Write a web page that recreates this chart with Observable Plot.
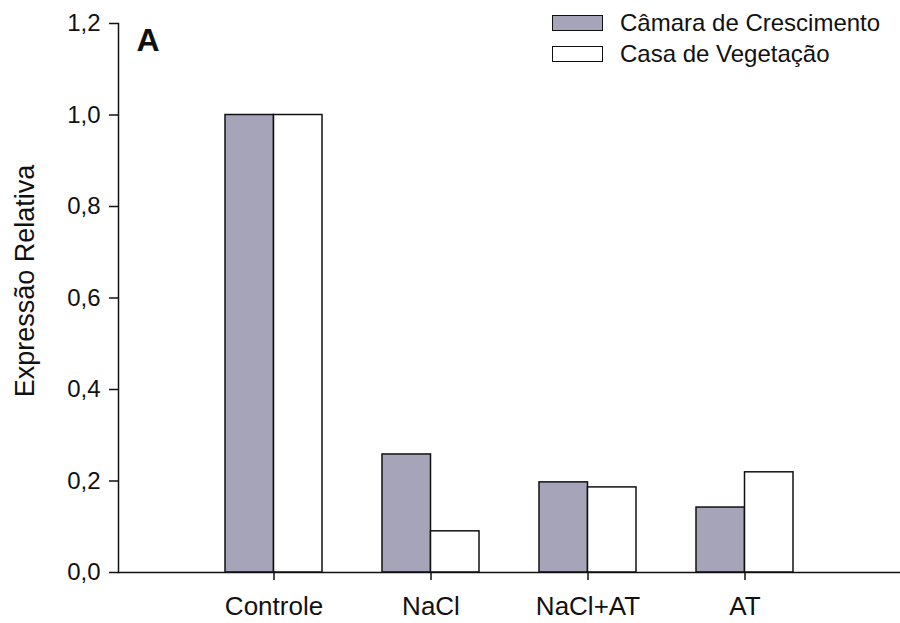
<!DOCTYPE html>
<html><head><meta charset="utf-8">
<script src="https://cdn.jsdelivr.net/npm/d3@7"></script>
<script src="https://cdn.jsdelivr.net/npm/@observablehq/plot@0.6"></script>
<style>
body{margin:0;background:#fff;font-family:"Liberation Sans",Arial,Helvetica,sans-serif;}
#wrap{position:relative;width:900px;height:623px;}
#legend{position:absolute;left:552px;top:7px;font-size:24px;color:#111;}
.item{display:flex;align-items:center;height:31px;}
.sw{width:49px;height:14px;border:1.5px solid #111;margin-right:17px;}
</style></head><body><div id="wrap"><div id="legend"></div></div>
<script>
const categories = ["Controle", "NaCl", "NaCl+AT", "AT"];
const series = ["Câmara de Crescimento", "Casa de Vegetação"];
const camara = [1.0, 0.258, 0.197, 0.142];
const casa = [1.0, 0.09, 0.186, 0.219];
const yTicks = [0, 0.2, 0.4, 0.6, 0.8, 1.0, 1.2];
const colors = ["#a5a4b8", "#ffffff"];

const rows = [];
categories.forEach((c, i) => {
  rows.push({category: c, series: series[0], value: camara[i]});
  rows.push({category: c, series: series[1], value: casa[i]});
});

const ink = "#111";
const chart = Plot.plot({
  width: 900,
  height: 623,
  marginTop: 23,
  marginBottom: 51,
  marginLeft: 118,
  marginRight: 0,
  style: {fontFamily: '"Liberation Sans", Arial, Helvetica, sans-serif', fontSize: "23px", color: ink, background: "transparent", overflow: "visible"},
  x: {domain: categories, paddingInner: 0.383, paddingOuter: 0.675, label: null},
  y: {domain: [0, 1.2], label: null},
  color: {domain: series, range: colors},
  marks: [
    Plot.barY(rows.filter(d => d.series === series[0]), {x: "category", y: "value", fill: "series", stroke: ink, strokeWidth: 1.5, insetRight: 48.5}),
    Plot.barY(rows.filter(d => d.series === series[1]), {x: "category", y: "value", fill: "series", stroke: ink, strokeWidth: 1.5, insetLeft: 48.5}),
    Plot.frame({anchor: "left", stroke: ink, strokeWidth: 1.5}),
    Plot.frame({anchor: "bottom", stroke: ink, strokeWidth: 1.5}),
    Plot.axisX({tickSize: 8, tickPadding: 16, strokeWidth: 1.5, label: null, fontSize: 26}),
    Plot.axisY({ticks: yTicks, tickSize: 9, tickPadding: 9, strokeWidth: 1.5, label: null, fontSize: 24,
      tickFormat: d => d.toFixed(1).replace(".", ",")}),
    Plot.text(["A"], {text: d => d, frameAnchor: "top-left", dx: 18, dy: 17, fontSize: 32, fontWeight: "bold", textAnchor: "start", lineAnchor: "middle", fill: ink}),
    Plot.text(["Expressão Relativa"], {text: d => d, frameAnchor: "left", rotate: -90, dx: -93, dy: -17, fontSize: 27, textAnchor: "middle", lineAnchor: "middle", fill: ink})
  ]
});
document.getElementById("wrap").prepend(chart);

const legend = document.getElementById("legend");
series.forEach((s, i) => {
  const item = document.createElement("div");
  item.className = "item";
  const sw = document.createElement("span");
  sw.className = "sw";
  sw.style.background = colors[i];
  const t = document.createElement("span");
  t.textContent = s;
  item.append(sw, t);
  legend.append(item);
});
</script>
</body></html>
